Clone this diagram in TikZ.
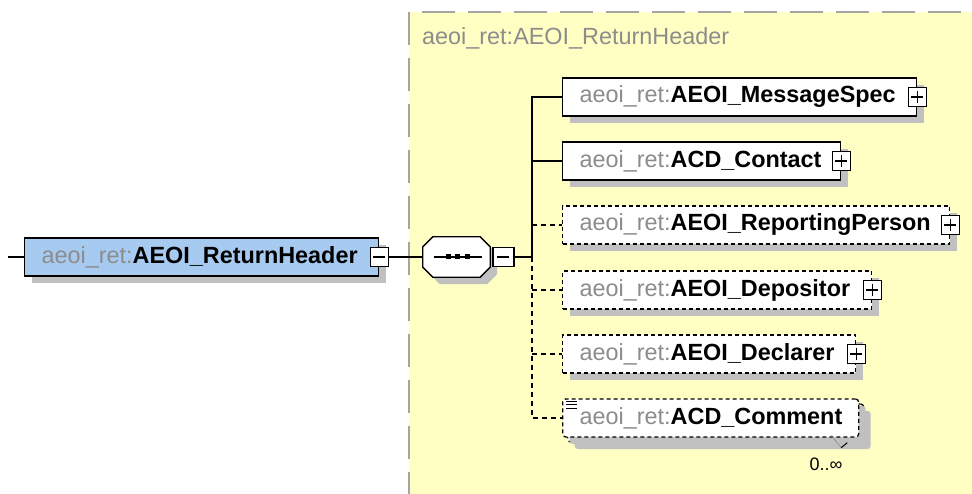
\documentclass[tikz,border=0pt]{standalone}
\usepackage{fontspec}
\setmainfont{Liberation Sans}
\usepackage{xcolor}
\usetikzlibrary{positioning, calc}

\definecolor{hdrblue}{RGB}{166,202,240}
\definecolor{seqyellow}{RGB}{255,255,196}
\definecolor{nsgray}{RGB}{140,140,140}
\definecolor{shadegray}{RGB}{192,192,192}
\definecolor{framegray}{RGB}{165,165,165}

\newcommand{\elemname}[1]{\mbox{\textcolor{nsgray}{aeoi\_ret:}\textbf{#1}}}

\begin{document}
\begin{tikzpicture}[x=1pt, y=-1pt, font=\fontsize{23.4}{27}\selectfont,
  shadowed/.style={preaction={fill=shadegray, transform canvas={shift={(7pt,-7pt)}}}},
  elem/.style={draw, fill=white, line width=1.3pt, shadowed, minimum height=38pt,
    inner xsep=17pt, inner ysep=0pt, align=left, anchor=west},
  optelem/.style={elem, dash pattern=on 4pt off 3pt},
  pmbox/.style={draw, fill=white, solid, line width=1.3pt, minimum width=18pt,
    minimum height=19pt, inner sep=0pt},
  plusbox/.style={pmbox, path picture={
    \draw[line width=1.2pt] ([xshift=-6pt]path picture bounding box.center) -- ([xshift=6pt]path picture bounding box.center)
      ([yshift=-6pt]path picture bounding box.center) -- ([yshift=6pt]path picture bounding box.center);}},
  minusbox/.style={pmbox, path picture={
    \draw[line width=1.2pt] ([xshift=-6pt]path picture bounding box.center) -- ([xshift=6pt]path picture bounding box.center);}},
  seqbox/.style={draw, fill=white, line width=1.3pt, shadowed},
  conn/.style={line width=1.3pt},
  optconn/.style={conn, dash pattern=on 5pt off 4pt},
  ctframe/.style={framegray, line width=2pt, dash pattern=on 33pt off 13pt}]
  \useasboundingbox (0,0) rectangle (972,494);
  % complex type area
  \fill[seqyellow] (409,12) rectangle (972,494);
  \draw[ctframe, dash phase=33pt] (409,12) -- (972,12);
  \draw[ctframe] (409,12) -- (409,494);
  \node[anchor=base west, inner sep=0pt, text=nsgray] (title) at (422,45) {aeoi\_ret:AEOI\_ReturnHeader};
  % root element
  \coordinate (start) at (8,257);
  \node[elem, fill=hdrblue, text width=320pt] (hdr) at (24,257) {\elemname{AEOI\_ReturnHeader}};
  \node[minusbox] (hdrm) at (hdr.east) {};
  % sequence compositor
  \node[minimum width=67pt, minimum height=40pt, inner sep=0pt] (seq) at (456.5,257) {};
  \draw[seqbox] ($(seq.north west)+(10,0)$) -- ($(seq.north east)+(-10,0)$) -- ($(seq.north east)+(0,10)$)
    -- ($(seq.south east)+(0,-10)$) -- ($(seq.south east)+(-10,0)$) -- ($(seq.south west)+(10,0)$)
    -- ($(seq.south west)+(0,-10)$) -- ($(seq.north west)+(0,10)$) -- cycle;
  \draw[line width=1.2pt] ($(seq.center)+(-23,0)$) -- ($(seq.center)+(25,0)$);
  \foreach \dx in {-8.5,1,10.5}
    \fill ($(seq.center)+(\dx,0)$) +(-2.5,-2.5) rectangle +(2.5,2.5);
  \node[minusbox, anchor=west, minimum width=21pt] (seqm) at ([xshift=2pt]seq.east) {};
  % child elements
  \node[elem, text width=320pt] (msg) at (562,97) {\elemname{AEOI\_MessageSpec}};
  \node[plusbox] (msgp) at (msg.east) {};
  \node[elem, text width=244pt] (cont) at (562,161) {\elemname{ACD\_Contact}};
  \node[plusbox] (contp) at (cont.east) {};
  \node[optelem, text width=353pt] (rep) at (562,225) {\elemname{AEOI\_ReportingPerson}};
  \node[plusbox] (repp) at (rep.east) {};
  \node[optelem, text width=275pt] (dep) at (562,290) {\elemname{AEOI\_Depositor}};
  \node[plusbox] (depp) at (dep.east) {};
  \node[optelem, text width=259pt] (decl) at (562,354) {\elemname{AEOI\_Declarer}};
  \node[plusbox] (declp) at (decl.east) {};
  % repeated element: copy behind, then the front box
  \node[optelem, text width=262pt, rounded corners=3pt] (cmtback) at (567,423) {};
  \node[optelem, text width=262pt, rounded corners=3pt] (cmt) at (562,418) {\elemname{ACD\_Comment}};
  \foreach \d in {0,3.5,7}
    \draw[line width=1pt] ($(cmt.north west)+(4,3+\d)$) -- +(11,0);
  \draw[densely dotted, gray, line width=1pt] ($(cmt.south east)+(-28,-2)$) -- ($(cmt.south east)+(-18,10)$);
  \draw[line width=1pt] ($(cmt.south east)+(-18,10)$) -- ($(cmt.south east)+(-12,5)$);
  \node[font=\fontsize{18}{21}\selectfont] (occ) at (826,464) {0..∞};
  % connectors
  \coordinate (spine) at (532,257);
  \draw[conn] (start) -- (hdr.west);
  \draw[conn] (hdrm.east) -- (seq.west);
  \draw[conn] (seqm.east) -- (spine);
  \draw[conn] (spine) |- (msg.west);
  \draw[conn] (spine |- cont.west) -- (cont.west);
  \draw[optconn] (spine |- rep.west) -- (rep.west);
  \draw[optconn] (spine) |- (cmt.west);
  \draw[optconn] (spine |- dep.west) -- (dep.west);
  \draw[optconn] (spine |- decl.west) -- (decl.west);
\end{tikzpicture}
\end{document}
